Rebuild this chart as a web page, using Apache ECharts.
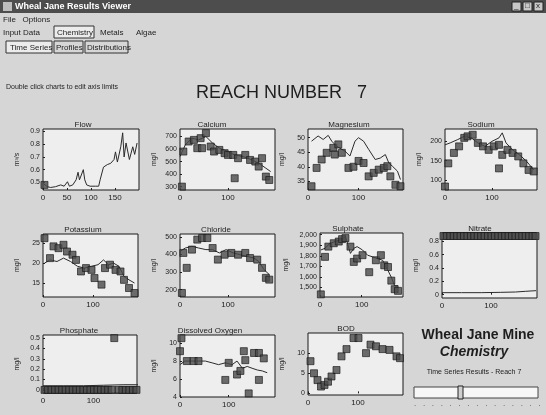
<!DOCTYPE html>
<html>
<head>
<meta charset="utf-8">
<script src="https://cdn.jsdelivr.net/npm/echarts@6/dist/echarts.min.js"></script>
<style>
  html, body { margin: 0; padding: 0; background: #d6d6d6; }
  .layer { position: absolute; left: 0; top: 0; width: 546px; height: 415px; }
</style>
</head>
<body>
<div id="frame" class="layer"></div>
<script>
// ---- Reach 7 chemistry time series (day of record vs. value) ----
const flowLine = [[1,0.49],[9,0.466],[16,0.46],[26,0.466],[37,0.48],[44,0.47],[51,0.505],[55,0.47],[62,0.48],[69,0.52],[73,0.58],[76,0.52],[84,0.6],[87,0.52],[91,0.48],[98,0.47],[109,0.47],[116,0.47],[119,0.52],[126,0.62],[134,0.64],[141,0.65],[148,0.68],[151,0.74],[155,0.66],[162,0.78],[166,0.89],[169,0.70],[173,0.81],[180,0.68],[187,0.78],[191,0.72],[196,0.81]];
const flowObs = [[3,0.48]];

const calciumObs = [[4,300],[7,580],[18,660],[29,673],[43,687],[54,727],[36,607],[46,607],[64,620],[71,580],[82,593],[93,567],[100,553],[111,553],[121,527],[136,553],[146,513],[157,500],[164,460],[171,527],[114,367],[179,380],[186,353]];
const calciumLine = [[0,540],[11,633],[25,687],[39,673],[54,700],[68,647],[82,607],[100,580],[114,553],[132,540],[150,513],[164,487],[179,447],[189,420]];

const magnesiumObs = [[7,33.3],[17,39.6],[27,42.5],[37,44.8],[50,46.5],[60,47.7],[53,44.2],[67,44.8],[80,39.6],[90,40],[100,42],[110,41.3],[120,36.7],[130,37.9],[140,39],[150,39.6],[157,40.2],[163,36.7],[173,33.8],[183,33.3]];
const magnesiumLine = [[7,48.8],[20,50.6],[30,49.4],[40,50.8],[47,48.8],[57,47],[73,45.4],[83,43.7],[93,48.8],[100,50],[110,48.8],[120,46],[133,42.5],[143,43],[153,44.2],[160,41.3],[167,40.2],[177,38.5],[183,35.6]];

const sodiumObs = [[0,83],[7,143],[19,170],[30,187],[41,209],[48,213],[59,217],[70,196],[81,187],[93,178],[104,187],[115,191],[122,165],[115,130],[133,178],[144,170],[156,161],[167,143],[178,126],[189,122]];
const sodiumLine = [[0,191],[11,196],[26,204],[41,213],[56,209],[70,196],[85,187],[100,200],[115,209],[122,222],[130,196],[144,178],[159,165],[174,148],[189,126]];

const potassiumObs = [[3,26.25],[14,21.25],[21,24.2],[31,23.75],[41,24.6],[48,22.9],[59,22.1],[66,20.8],[76,17.9],[86,18.75],[97,18.3],[103,16.25],[117,14.6],[124,18.75],[134,19.6],[145,18.3],[155,17.9],[162,15.8],[172,13.75],[183,12.5]];
const potassiumLine = [[3,20],[14,20.8],[28,20.4],[41,21.25],[55,20.4],[69,19.2],[83,18.75],[97,19.2],[110,19.6],[121,20.8],[131,19.6],[141,20],[152,19.2],[162,16.7],[172,15.8],[183,15]];

const chlorideObs = [[4,181],[7,409],[14,324],[25,428],[36,485],[46,494],[57,494],[68,437],[79,371],[93,399],[107,409],[121,399],[136,409],[146,380],[161,371],[171,324],[179,267],[186,257]];
const chlorideLine = [[0,418],[11,437],[25,447],[39,437],[54,428],[68,428],[82,409],[96,428],[111,409],[125,399],[139,390],[154,380],[164,361],[175,314],[186,286]];

const sulphateObs = [[2,1435],[12,1790],[20,1887],[33,1919],[45,1935],[53,1958],[61,1968],[73,1887],[81,1742],[89,1774],[102,1806],[118,1645],[134,1758],[146,1806],[154,1710],[163,1694],[171,1565],[179,1484],[187,1468]];
const sulphateLine = [[2,1855],[12,1871],[24,1919],[37,1935],[49,1952],[61,1984],[73,1823],[81,1871],[89,1887],[102,1855],[114,1806],[126,1790],[138,1774],[150,1758],[163,1661],[171,1597],[179,1516],[187,1516]];

const nitrateObs = [[3,0.88],[10,0.88],[17,0.88],[24,0.88],[31,0.88],[38,0.88],[45,0.88],[52,0.88],[59,0.88],[66,0.88],[73,0.88],[80,0.88],[87,0.88],[94,0.88],[101,0.88],[108,0.88],[115,0.88],[122,0.88],[129,0.88],[136,0.88],[143,0.88],[150,0.88],[157,0.88],[164,0.88],[171,0.88],[178,0.88],[185,0.88],[191,0.88]];
const nitrateLine = [[0,0.03],[40,0.03],[80,0.03],[120,0.035],[150,0.04],[170,0.05],[192,0.06]];

const phosphateObs = [[3,0.0],[10,0.0],[17,0.0],[24,0.0],[31,0.0],[38,0.0],[45,0.0],[52,0.0],[59,0.0],[66,0.0],[73,0.0],[80,0.0],[87,0.0],[94,0.0],[101,0.0],[108,0.0],[115,0.0],[122,0.0],[129,0.0],[136,0.0],[141,0.5],[150,0.0],[157,0.0],[164,0.0],[171,0.0],[178,0.0],[185,0.0]];
const phosphateLine = [[0,0.04],[40,0.04],[80,0.04],[120,0.045],[160,0.05],[190,0.05]];

const oxygenObs = [[3,10.55],[0,9.1],[14,8],[28,8],[38,8],[93,5.9],[100,7.8],[117,6.5],[124,6.9],[131,9.1],[134,8.1],[152,8.9],[162,8.9],[172,8.3],[141,4.4],[162,5.9]];
const oxygenLine = [[0,7.6],[10,8],[24,8],[38,8],[52,8],[66,7.8],[79,7.6],[93,7.8],[107,7.6],[117,8],[128,7.2],[138,7.4],[148,7.2],[159,7],[169,6.9],[179,6.7]];

const bodObs = [[5,8],[12,5],[19,3.3],[26,1.7],[33,2.1],[40,2.9],[47,4.2],[57,5.8],[67,9.2],[77,11],[91,13.75],[101,13.75],[116,10],[125,12.1],[136,11.7],[149,11],[163,10.8],[177,9.2],[184,8.75]];

// y-axis tick labels per panel
const flowTicks = [0.5, 0.6, 0.7, 0.8, 0.9];
const calciumTicks = [300, 400, 500, 600, 700];
const magnesiumTicks = [35, 40, 45, 50];
const sodiumTicks = [100, 150, 200];
const potassiumTicks = [15, 20, 25];
const chlorideTicks = [200, 300, 400, 500];
const sulphateTicks = [1500, 1600, 1700, 1800, 1900, 2000];
const nitrateTicks = [0, 0.2, 0.4, 0.6, 0.8];
const phosphateTicks = [0, 0.1, 0.2, 0.3, 0.4, 0.5];
const oxygenTicks = [4, 6, 8, 10];
const bodTicks = [0, 5, 10];
const flowDayTicks = [0, 50, 100, 150];
const dayTicks = [0, 100];

// panel layout: name, unit, grid box, y range, ticks, series
const panels = [
  { name: 'Flow', unit: 'm³/s', box: [43,129,96,61], y: [0.44,0.92], yt: flowTicks, xmax: 200, xt: flowDayTicks, obs: flowObs, line: flowLine, tx: 78 },
  { name: 'Calcium', unit: 'mg/l', box: [180,129,95,61], y: [273,760], yt: calciumTicks, xmax: 198, xt: dayTicks, obs: calciumObs, line: calciumLine, tx: 207 },
  { name: 'Magnesium', unit: 'mg/l', box: [308,129,95,61], y: [32,53], yt: magnesiumTicks, xmax: 188, xt: dayTicks, obs: magnesiumObs, line: magnesiumLine, tx: 344 },
  { name: 'Sodium', unit: 'mg/l', box: [445,129,92,61], y: [74,232], yt: sodiumTicks, xmax: 196, xt: dayTicks, obs: sodiumObs, line: sodiumLine, tx: 476 },
  { name: 'Potassium', unit: 'mg/l', box: [43,234,95,63], y: [11.5,27.3], yt: potassiumTicks, xmax: 190, xt: dayTicks, obs: potassiumObs, line: potassiumLine, tx: 78 },
  { name: 'Chloride', unit: 'mg/l', box: [180,234,95,63], y: [158,517], yt: chlorideTicks, xmax: 198, xt: dayTicks, obs: chlorideObs, line: chlorideLine, tx: 211 },
  { name: 'Sulphate', unit: 'mg/l', box: [320,233,83,64], y: [1410,2016], yt: sulphateTicks, xmax: 199, xt: dayTicks, obs: sulphateObs, line: sulphateLine, tx: 343, comma: true },
  { name: 'Nitrate', unit: 'mg/l', box: [442,233,95,65], y: [-0.05,0.925], yt: nitrateTicks, xmax: 194, xt: dayTicks, obs: nitrateObs, line: nitrateLine, tx: 475 },
  { name: 'Phosphate', unit: 'mg/l', box: [43,335,94,58], y: [-0.03,0.53], yt: phosphateTicks, xmax: 186, xt: dayTicks, obs: phosphateObs, line: phosphateLine, tx: 74 },
  { name: 'Dissolved Oxygen', unit: 'mg/l', box: [180,335,95,62], y: [4,10.9], yt: oxygenTicks, xmax: 195, xt: dayTicks, obs: oxygenObs, line: oxygenLine, tx: 205 },
  { name: 'BOD', unit: 'mg/l', box: [308,333,95,62], y: [-0.4,15], yt: bodTicks, xmax: 190, xt: dayTicks, obs: bodObs, line: null, tx: 341 }
];

const FONT = 'Liberation Sans, Arial, sans-serif';
const INK = '#1e1e1e';

// application frame, header texts and the side caption (bottom layer)
const txt = (x, y, s, size, extra) => ({ type: 'text', x, y,
  style: Object.assign({ text: s, fill: INK, font: `${size}px ${FONT}` }, extra || {}) });
const box = (x, y, w, h, extra) => ({ type: 'rect', shape: { x, y, width: w, height: h },
  style: Object.assign({ fill: 'none', stroke: '#333', lineWidth: 1 }, extra || {}) });

const frameGraphic = [
  box(0, 0, 546, 13, { fill: '#4d4d4d', stroke: 'none' }),
  box(3, 2, 9, 9, { fill: '#bdbdbd', stroke: 'none' }),
  txt(15, 2, 'Wheal Jane Results Viewer', 9, { fill: '#ffffff', font: `bold 9px ${FONT}` }),
  box(512, 2, 9, 9, { fill: '#c8c8c8', stroke: '#222' }),
  box(523, 2, 9, 9, { fill: '#c8c8c8', stroke: '#222' }),
  box(534, 2, 9, 9, { fill: '#c8c8c8', stroke: '#222' }),
  txt(514, 2, '_', 8), txt(525, 2, '□', 8), txt(536, 2, 'x', 8),
  txt(3, 16, 'File   Options', 8),
  txt(3, 29, 'Input Data', 8),
  box(54, 26, 40, 12, { fill: '#ececec' }),
  txt(57, 29, 'Chemistry', 8),
  txt(100, 29, 'Metals', 8),
  txt(136, 29, 'Algae', 8),
  box(6, 41, 46, 12, { fill: '#ececec' }),
  txt(10, 44, 'Time Series', 8),
  box(54, 41, 29, 12),
  txt(56, 44, 'Profiles', 8),
  box(85, 41, 43, 12),
  txt(87, 44, 'Distributions', 8),
  txt(6, 84, 'Double click charts to edit axis limits', 7),
  txt(196, 84, 'REACH NUMBER   7', 18),
  { type: 'text', x: 478, y: 328, style: { text: 'Wheal Jane Mine', fill: INK, font: `bold 14px ${FONT}`, align: 'center' } },
  { type: 'text', x: 474, y: 345, style: { text: 'Chemistry', fill: INK, font: `italic bold 14px ${FONT}`, align: 'center' } },
  { type: 'text', x: 474, y: 369, style: { text: 'Time Series Results - Reach 7', fill: INK, font: `7px ${FONT}`, align: 'center' } },
  box(414, 387, 124, 11, { fill: '#f7f7f7', stroke: '#444' }),
  box(458, 386, 5, 13, { fill: '#cfcfcf', stroke: '#222' }),
  txt(414, 400, '.   .   .   .   .   .   .   .   .   .   .   .   .   .   .', 8, { fill: '#444' })
];

const frame = echarts.init(document.getElementById('frame'));
frame.setOption({ backgroundColor: '#d6d6d6', animation: false, graphic: frameGraphic });

// one chart instance per panel, each on its own transparent layer
panels.forEach((p) => {
  const [l, t, w, h] = p.box;
  const el = document.createElement('div');
  el.className = 'layer';
  document.body.appendChild(el);
  const series = [];
  if (p.line) {
    series.push({ type: 'line', data: p.line, showSymbol: false,
      lineStyle: { color: '#2b2b2b', width: 1 } });
  }
  series.push({ type: 'scatter', data: p.obs, symbol: 'rect', symbolSize: 7,
    itemStyle: { color: '#4a4a4a', borderColor: '#141414', borderWidth: 0.8 }, z: 3 });
  const chart = echarts.init(el);
  chart.setOption({
    backgroundColor: 'transparent',
    animation: false,
    title: { text: p.name, left: p.tx, top: t - 13, textAlign: 'center',
      textStyle: { fontSize: 8, fontWeight: 'normal', color: INK, fontFamily: FONT } },
    grid: { left: l, top: t, width: w, height: h, show: true,
      backgroundColor: '#eeeeee', borderColor: '#1a1a1a', borderWidth: 1 },
    xAxis: { type: 'value', min: 0, max: p.xmax,
      axisLine: { show: false },
      axisTick: { show: true, inside: true, length: 2, lineStyle: { color: INK }, customValues: p.xt },
      axisLabel: { fontSize: 8, color: INK, fontFamily: FONT, margin: 4, customValues: p.xt },
      splitLine: { show: false } },
    yAxis: { type: 'value', min: p.y[0], max: p.y[1],
      name: p.unit, nameLocation: 'middle', nameRotate: 90, nameGap: p.comma ? 30 : 22,
      nameTextStyle: { fontSize: 7, color: INK, fontFamily: FONT },
      axisLine: { show: false },
      axisTick: { show: true, inside: true, length: 2, lineStyle: { color: INK }, customValues: p.yt },
      axisLabel: { fontSize: 7, color: INK, fontFamily: FONT, margin: 3, customValues: p.yt,
        formatter: v => p.comma ? Number(v).toLocaleString('en-US') : String(+Number(v).toFixed(2)) },
      splitLine: { show: false } },
    series: series
  });
});
</script>
</body>
</html>
